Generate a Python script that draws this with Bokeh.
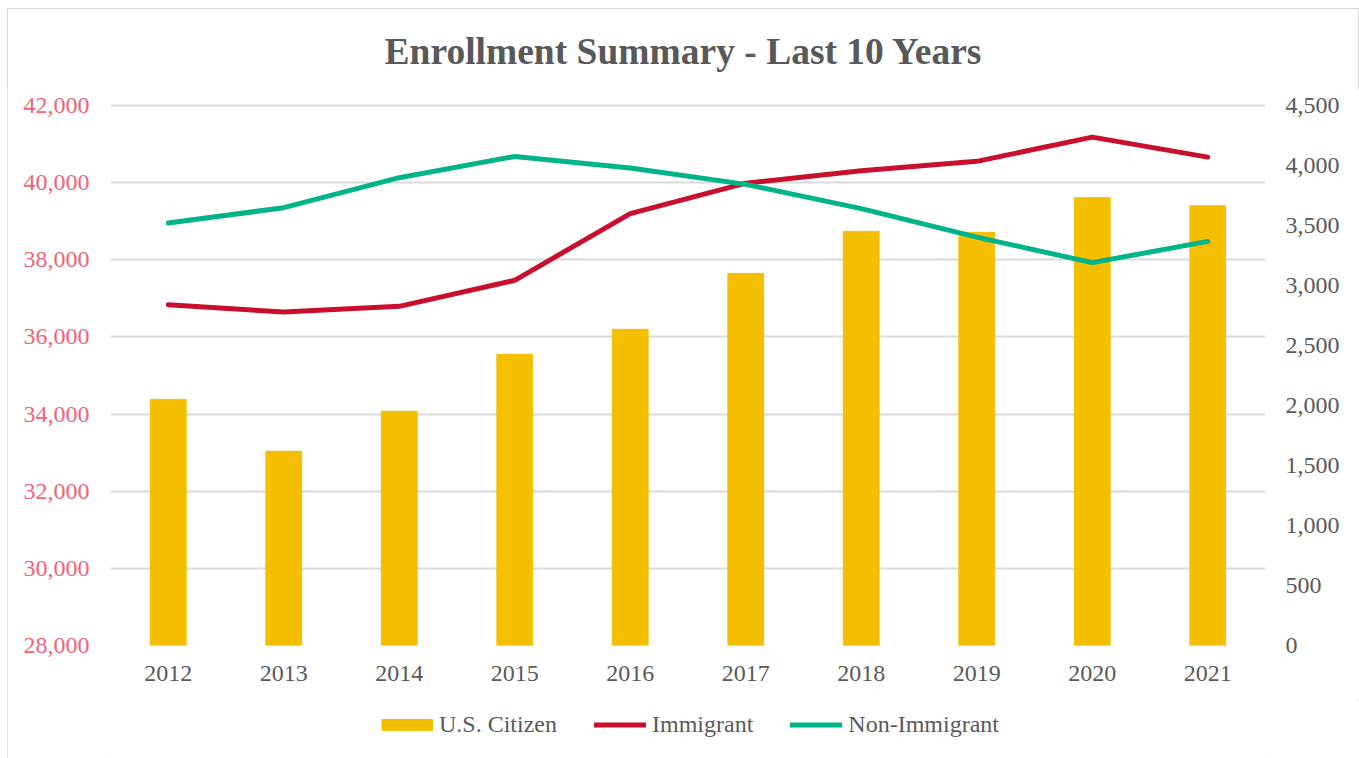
from bokeh.plotting import figure
from bokeh.layouts import column
from bokeh.models import (Range1d, LinearAxis, FixedTicker, NumeralTickFormatter,
                          Legend, LegendItem, ColumnDataSource, FactorRange, Div)
from bokeh.embed import file_html
from bokeh.resources import INLINE

years = ["2012", "2013", "2014", "2015", "2016", "2017", "2018", "2019", "2020", "2021"]
us_citizen = [34380, 33035, 34070, 35550, 36195, 37645, 38735, 38710, 39610, 39400]
immigrant = [2840, 2778, 2826, 3043, 3598, 3852, 3956, 4034, 4236, 4069]
non_immigrant = [3520, 3648, 3898, 4075, 3978, 3842, 3640, 3403, 3190, 3367]
left_ticks = [28000, 30000, 32000, 34000, 36000, 38000, 40000, 42000]
right_ticks = [0, 500, 1000, 1500, 2000, 2500, 3000, 3500, 4000, 4500]

BAR = "#F4BF00"
RED = "#C8102E"
GREEN = "#00B388"
GREY = "#595959"
PINK = "#F06478"
FONT = "Liberation Serif"
FS = "24px"

src = ColumnDataSource(dict(year=years, us=us_citizen, imm=immigrant, non=non_immigrant))

title = Div(text="Enrollment Summary - Last 10 Years", width=1352, height=80, margin=0,
            styles={"font-family": FONT, "font-size": "37.5px", "font-weight": "bold",
                    "color": GREY, "text-align": "center", "line-height": "88px"})

# a little headroom above the top gridline so it is not clipped by the frame edge
p = figure(width=1352, height=612, x_range=FactorRange(*years),
           y_range=Range1d(28000, 42050), output_backend="svg", toolbar_location=None,
           min_border_left=103, min_border_right=94, min_border_top=15, min_border_bottom=55,
           outline_line_color=None)
p.extra_y_ranges = {"right": Range1d(0, 4500 * 14050 / 14000)}

bars = p.vbar(x="year", top="us", bottom=28000, width=0.31, source=src, color=BAR)
l_imm = p.line(x="year", y="imm", source=src, y_range_name="right", color=RED,
               line_width=5, line_join="round", line_cap="round")
l_non = p.line(x="year", y="non", source=src, y_range_name="right", color=GREEN,
               line_width=5, line_join="round", line_cap="round")

# axes
p.yaxis.ticker = FixedTicker(ticks=left_ticks)
p.yaxis.formatter = NumeralTickFormatter(format="0,0")
p.yaxis.major_label_text_color = PINK

right = LinearAxis(y_range_name="right", ticker=FixedTicker(ticks=right_ticks),
                   formatter=NumeralTickFormatter(format="0,0"))
right.major_label_text_color = GREY
p.add_layout(right, "right")

for ax in [p.xaxis[0], p.yaxis[0], right]:
    ax.axis_line_color = None
    ax.major_tick_line_color = None
    ax.minor_tick_line_color = None
    ax.major_tick_out = 0
    ax.major_tick_in = 0
    ax.major_label_text_font = FONT
    ax.major_label_text_font_size = FS
p.xaxis.major_label_standoff = 20
p.xaxis.major_label_text_color = GREY
p.yaxis[0].major_label_standoff = 21
right.major_label_standoff = 20

p.xgrid.grid_line_color = None
p.ygrid.grid_line_color = "#D9D9D9"
p.ygrid.grid_line_width = 2

# legend strip below the chart
lg = figure(width=1352, height=58, x_range=p.x_range, y_range=Range1d(0, 1),
            output_backend="svg", toolbar_location=None,
            x_axis_location=None, y_axis_location=None,
            min_border_left=0, min_border_right=0, min_border_top=0, min_border_bottom=0,
            outline_line_color=None)
lg.grid.visible = False
lg.xgrid.grid_line_color = None
lg.ygrid.grid_line_color = None
g_us = lg.line(x="year", y="us", source=src, color=BAR, line_width=12, line_cap="butt", visible=False)
g_imm = lg.line(x="year", y="imm", source=src, color=RED, line_width=5, line_cap="round", visible=False)
g_non = lg.line(x="year", y="non", source=src, color=GREEN, line_width=5, line_cap="round", visible=False)

legend = Legend(items=[LegendItem(label="U.S. Citizen", renderers=[g_us]),
                       LegendItem(label="Immigrant", renderers=[g_imm]),
                       LegendItem(label="Non-Immigrant", renderers=[g_non])],
                orientation="horizontal", location=(271, 20),
                glyph_width=52, glyph_height=27, label_standoff=6, spacing=37,
                padding=0, margin=0, border_line_color=None, background_fill_alpha=0,
                inactive_fill_alpha=0,
                label_text_font=FONT, label_text_font_size=FS, label_text_color=GREY)
lg.add_layout(legend, "center")

layout = column(title, p, lg, spacing=0)
layout.margin = (8, 0, 0, 7)
layout.styles = {"outline": "1.5px solid #D9D9D9", "outline-offset": "-1.5px"}

open("out.html", "w").write(file_html(layout, INLINE))
